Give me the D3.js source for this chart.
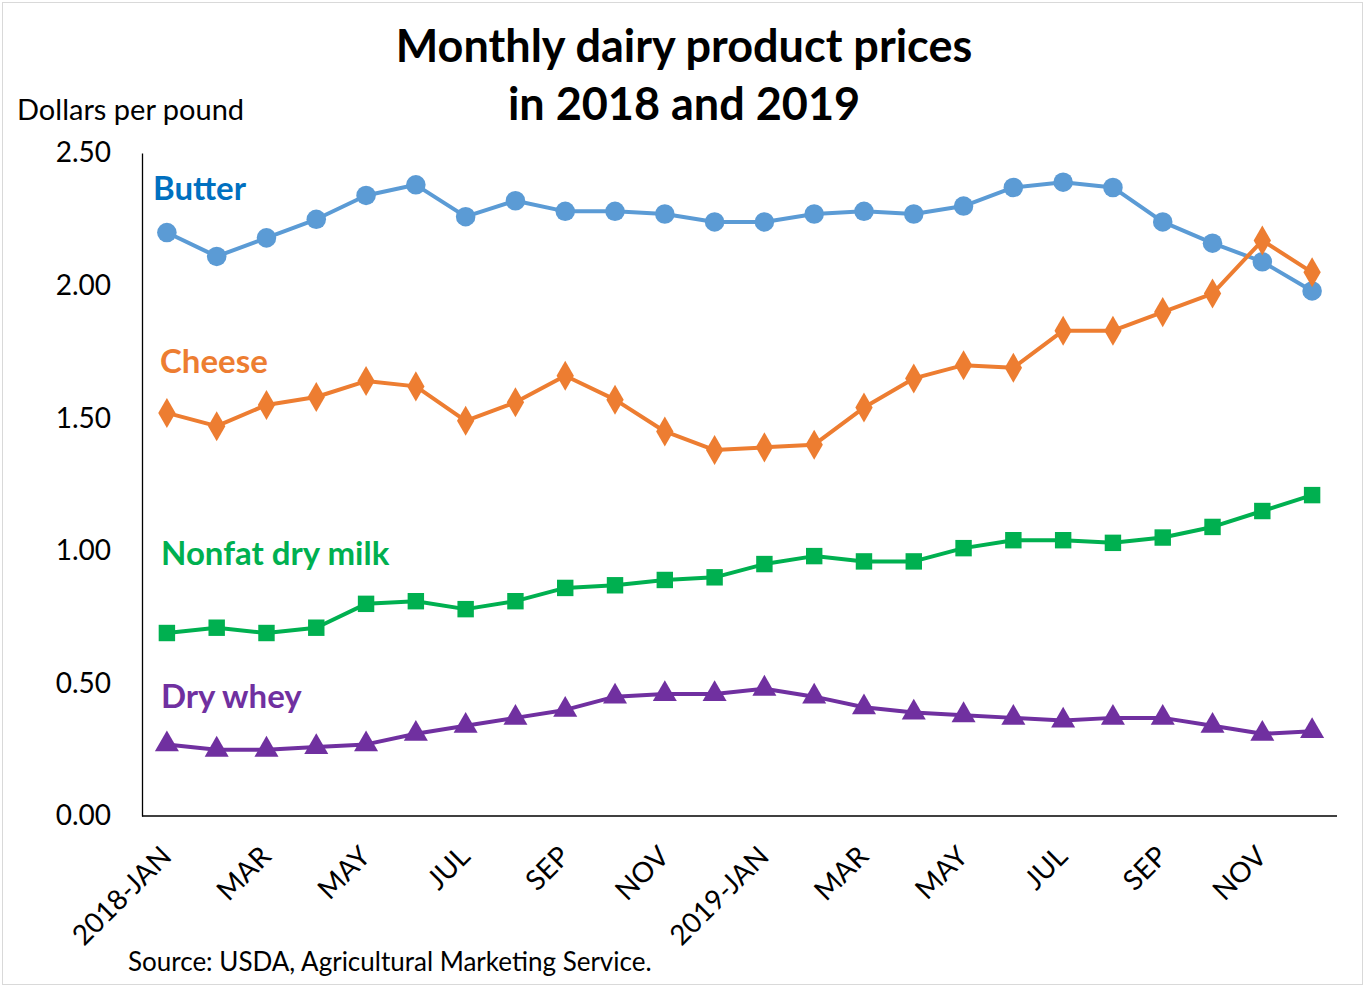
<!DOCTYPE html>
<html>
<head>
<meta charset="utf-8">
<script src="https://cdn.jsdelivr.net/npm/d3@7"></script>
<style>
  body { margin: 0; background: #fff; }
  text { font-family: Lato, "Open Sans", sans-serif; }
</style>
</head>
<body>
<svg width="1365" height="987"></svg>
<script>
// monthly prices, Jan 2018 - Dec 2019
var months = ["2018-JAN","FEB","MAR","APR","MAY","JUN","JUL","AUG","SEP","OCT","NOV","DEC",
              "2019-JAN","FEB","MAR","APR","MAY","JUN","JUL","AUG","SEP","OCT","NOV","DEC"];
var butter = [2.20,2.11,2.18,2.25,2.34,2.38,2.26,2.32,2.28,2.28,2.27,2.24,
              2.24,2.27,2.28,2.27,2.30,2.37,2.39,2.37,2.24,2.16,2.09,1.98];
var cheese = [1.52,1.47,1.55,1.58,1.64,1.62,1.49,1.56,1.66,1.57,1.45,1.38,
              1.39,1.40,1.54,1.65,1.70,1.69,1.83,1.83,1.90,1.97,2.17,2.05];
var nonfat = [0.69,0.71,0.69,0.71,0.80,0.81,0.78,0.81,0.86,0.87,0.89,0.90,
              0.95,0.98,0.96,0.96,1.01,1.04,1.04,1.03,1.05,1.09,1.15,1.21];
var whey   = [0.27,0.25,0.25,0.26,0.27,0.31,0.34,0.37,0.40,0.45,0.46,0.46,
              0.48,0.45,0.41,0.39,0.38,0.37,0.36,0.37,0.37,0.34,0.31,0.32];
var yTicks = [0, 0.5, 1.0, 1.5, 2.0, 2.5];
var xTickLabels = ["2018-JAN","MAR","MAY","JUL","SEP","NOV","2019-JAN","MAR","MAY","JUL","SEP","NOV"];

var series = [
  {name: "Butter", values: butter, line: "#5B9BD5", label: "#0070C0", symbol: d3.symbolCircle, size: 300, lx: 153, ly: 200},
  {name: "Cheese", values: cheese, line: "#ED7D31", label: "#ED7D31", symbol: d3.symbolDiamond, size: 260, lx: 160, ly: 373},
  {name: "Nonfat dry milk", values: nonfat, line: "#00B050", label: "#00B050", symbol: d3.symbolSquare, size: 270, lx: 161, ly: 565},
  {name: "Dry whey", values: whey, line: "#7030A0", label: "#7030A0", symbol: d3.symbolTriangle, size: 250, lx: 161, ly: 708}
];

var svg = d3.select("svg");
var plotLeft = 142, plotRight = 1337, plotTop = 153, plotBottom = 816;

svg.append("rect")
  .attr("x", 2.5).attr("y", 2.5).attr("width", 1360).attr("height", 982)
  .attr("fill", "none").attr("stroke", "#d9d9d9");

var x = d3.scaleBand().domain(d3.range(months.length)).range([plotLeft, plotRight]);
var y = d3.scaleLinear().domain([0, 2.5]).range([plotBottom, plotTop]);

// axes
var yAxis = svg.append("g")
  .attr("transform", "translate(" + plotLeft + ",0)")
  .call(d3.axisLeft(y).tickValues(yTicks).tickSize(0).tickPadding(31).tickFormat(d3.format(".2f")));
yAxis.select(".domain").attr("stroke", "#000").attr("stroke-width", 1.3);
yAxis.selectAll("text").attr("font-size", 28).attr("fill", "#000");

var xAxis = svg.append("g")
  .attr("transform", "translate(0," + plotBottom + ")")
  .call(d3.axisBottom(x).tickSize(0).tickValues(d3.range(0, 24, 2))
    .tickFormat(function(i) { return xTickLabels[i / 2]; }));
xAxis.select(".domain").attr("stroke", "#000").attr("stroke-width", 1.3)
  .attr("d", "M" + plotLeft + ",0H" + plotRight);
xAxis.selectAll("text")
  .attr("font-size", 28).attr("fill", "#000")
  .attr("text-anchor", "end")
  .attr("dy", null)
  .attr("transform", "translate(4,40) rotate(-45)");

var line = d3.line()
  .x(function(d, i) { return x(i) + x.bandwidth() / 2; })
  .y(function(d) { return y(d); });

series.forEach(function(s) {
  svg.append("path")
    .datum(s.values)
    .attr("d", line)
    .attr("fill", "none")
    .attr("stroke", s.line)
    .attr("stroke-width", 4)
    .attr("stroke-linejoin", "round");

  svg.append("g").selectAll("path")
    .data(s.values)
    .enter()
    .append("path")
    .attr("d", d3.symbol().type(s.symbol).size(s.size))
    .attr("transform", function(d, i) {
      return "translate(" + (x(i) + x.bandwidth() / 2) + "," + y(d) + ")";
    })
    .attr("fill", s.line);

  svg.append("text")
    .attr("x", s.lx).attr("y", s.ly)
    .attr("font-size", 33).attr("font-weight", "bold")
    .attr("fill", s.label)
    .text(s.name);
});

// titles
svg.append("text").attr("x", 684).attr("y", 62).attr("text-anchor", "middle")
  .attr("font-size", 45).attr("font-weight", "bold").text("Monthly dairy product prices");
svg.append("text").attr("x", 684).attr("y", 120).attr("text-anchor", "middle")
  .attr("font-size", 45).attr("font-weight", "bold").text("in 2018 and 2019");
svg.append("text").attr("x", 17).attr("y", 120)
  .attr("font-size", 29).text("Dollars per pound");
svg.append("text").attr("x", 128).attr("y", 971)
  .attr("font-size", 26).text("Source: USDA, Agricultural Marketing Service.");
</script>
</body>
</html>
